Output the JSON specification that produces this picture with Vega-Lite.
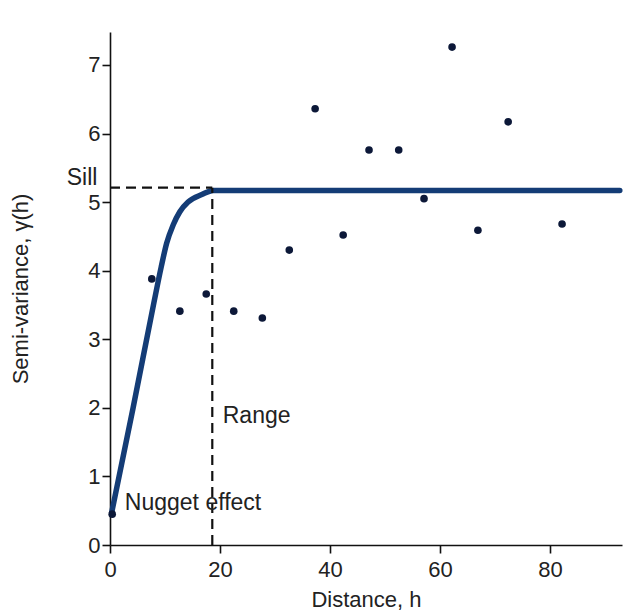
{
  "$schema": "https://vega.github.io/schema/vega-lite/v6.json",
  "width": 512,
  "height": 513,
  "autosize": {"type": "none"},
  "padding": {"left": 110, "top": 32, "right": 3, "bottom": 67},
  "background": "white",
  "config": {
    "view": {"stroke": null},
    "font": "Liberation Sans",
    "axis": {
      "grid": false,
      "domainColor": "#111111",
      "domainWidth": 1.6,
      "tickColor": "#111111",
      "tickWidth": 1.6,
      "tickSize": 8,
      "labelFont": "Liberation Sans",
      "labelFontSize": 22,
      "labelColor": "#222222",
      "titleFont": "Liberation Sans",
      "titleFontSize": 22,
      "titleFontWeight": "normal",
      "titleColor": "#222222",
      "labelFlush": false
    }
  },
  "datasets": {
    "points": [
      {"x": 0.4, "y": 0.45},
      {"x": 7.6, "y": 3.88},
      {"x": 12.7, "y": 3.41},
      {"x": 17.5, "y": 3.66},
      {"x": 22.5, "y": 3.41},
      {"x": 27.7, "y": 3.31},
      {"x": 32.6, "y": 4.30},
      {"x": 37.3, "y": 6.36},
      {"x": 42.4, "y": 4.52},
      {"x": 47.1, "y": 5.76},
      {"x": 52.5, "y": 5.76},
      {"x": 57.1, "y": 5.05},
      {"x": 62.2, "y": 7.26},
      {"x": 66.9, "y": 4.59},
      {"x": 72.4, "y": 6.17},
      {"x": 82.2, "y": 4.68}
    ],
    "model": [
      {"x": 0.3, "y": 0.47},
      {"x": 4.2, "y": 2.0},
      {"x": 7.9, "y": 3.5},
      {"x": 9.3, "y": 4.05},
      {"x": 10.3, "y": 4.4},
      {"x": 11.5, "y": 4.67},
      {"x": 12.7, "y": 4.86},
      {"x": 14.2, "y": 5.0},
      {"x": 16.7, "y": 5.11},
      {"x": 18.8, "y": 5.17},
      {"x": 92.7, "y": 5.17}
    ],
    "guides": [
      {"x": 0, "x2": 18.6, "y": 5.21, "y2": 5.21},
      {"x": 18.6, "x2": 18.6, "y": 0, "y2": 5.21}
    ],
    "notes": [
      {"x": -2.3, "y": 5.25, "label": "Sill", "side": "right"},
      {"x": 20.5, "y": 1.78, "label": "Range", "side": "left"},
      {"x": 2.7, "y": 0.51, "label": "Nugget effect", "side": "left"}
    ]
  },
  "layer": [
    {
      "data": {"name": "model"},
      "mark": {"type": "line", "color": "#143c76", "strokeWidth": 5.5, "interpolate": "monotone", "strokeCap": "round"},
      "encoding": {
        "x": {
          "field": "x", "type": "quantitative", "title": "Distance, h",
          "scale": {"domain": [0, 93.1], "nice": false, "zero": false},
          "axis": {"values": [0, 20, 40, 60, 80], "format": "d", "labelPadding": 6, "titlePadding": 9}
        },
        "y": {
          "field": "y", "type": "quantitative", "title": "Semi-variance, γ(h)",
          "scale": {"domain": [0, 7.48], "nice": false, "zero": false},
          "axis": {"values": [0, 1, 2, 3, 4, 5, 6, 7], "format": "d", "labelPadding": 2, "titlePadding": 55}
        }
      }
    },
    {
      "data": {"name": "guides"},
      "mark": {"type": "rule", "color": "#111111", "strokeWidth": 2.2, "strokeDash": [10, 6]},
      "encoding": {
        "x": {"field": "x", "type": "quantitative", "title": "Distance, h"},
        "x2": {"field": "x2"},
        "y": {"field": "y", "type": "quantitative", "title": "Semi-variance, γ(h)"},
        "y2": {"field": "y2"}
      }
    },
    {
      "data": {"name": "points"},
      "mark": {"type": "circle", "color": "#0c1838", "size": 58, "opacity": 1},
      "encoding": {
        "x": {"field": "x", "type": "quantitative", "title": "Distance, h"},
        "y": {"field": "y", "type": "quantitative", "title": "Semi-variance, γ(h)"}
      }
    },
    {
      "data": {"name": "notes"},
      "transform": [{"filter": "datum.side === 'left'"}],
      "mark": {"type": "text", "align": "left", "baseline": "alphabetic", "fontSize": 23, "color": "#222222", "font": "Liberation Sans"},
      "encoding": {
        "x": {"field": "x", "type": "quantitative", "title": "Distance, h"},
        "y": {"field": "y", "type": "quantitative", "title": "Semi-variance, γ(h)"},
        "text": {"field": "label"}
      }
    },
    {
      "data": {"name": "notes"},
      "transform": [{"filter": "datum.side === 'right'"}],
      "mark": {"type": "text", "align": "right", "baseline": "alphabetic", "fontSize": 23, "color": "#222222", "font": "Liberation Sans"},
      "encoding": {
        "x": {"field": "x", "type": "quantitative", "title": "Distance, h"},
        "y": {"field": "y", "type": "quantitative", "title": "Semi-variance, γ(h)"},
        "text": {"field": "label"}
      }
    }
  ]
}
